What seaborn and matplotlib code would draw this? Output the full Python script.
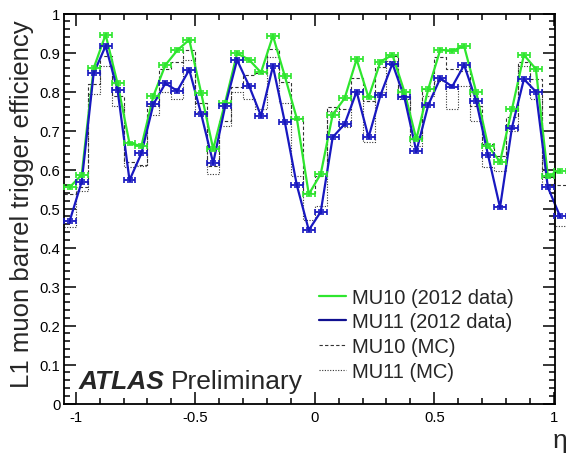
import numpy as np
import pandas as pd
import matplotlib
matplotlib.use("Agg")
import matplotlib.pyplot as plt
from matplotlib.lines import Line2D
from matplotlib.ticker import MultipleLocator, FixedLocator
import seaborn as sns

# ---------------- data ----------------
eta_centers = [-1.025, -0.975, -0.925, -0.875, -0.825, -0.775, -0.725, -0.675,
               -0.625, -0.575, -0.525, -0.475, -0.425, -0.375, -0.325, -0.275,
               -0.225, -0.175, -0.125, -0.075, -0.025, 0.025, 0.075, 0.125,
               0.175, 0.225, 0.275, 0.325, 0.375, 0.425, 0.475, 0.525,
               0.575, 0.625, 0.675, 0.725, 0.775, 0.825, 0.875, 0.925,
               0.975, 1.025]
bin_half_width = 0.025

mu10_data = [0.555, 0.587, 0.860, 0.946, 0.821, 0.667, 0.661, 0.789, 0.868, 0.906,
             0.933, 0.796, 0.653, 0.772, 0.898, 0.882, 0.849, 0.943, 0.839, 0.731,
             0.537, 0.589, 0.741, 0.783, 0.883, 0.785, 0.877, 0.894, 0.800, 0.678,
             0.807, 0.907, 0.905, 0.916, 0.800, 0.661, 0.620, 0.755, 0.894, 0.858,
             0.584, 0.597]
mu11_data = [0.469, 0.569, 0.847, 0.917, 0.804, 0.573, 0.642, 0.768, 0.821, 0.802,
             0.856, 0.742, 0.617, 0.762, 0.881, 0.815, 0.738, 0.865, 0.721, 0.560,
             0.445, 0.492, 0.683, 0.717, 0.800, 0.683, 0.791, 0.872, 0.785, 0.647,
             0.766, 0.834, 0.813, 0.868, 0.777, 0.637, 0.503, 0.708, 0.832, 0.800,
             0.555, 0.482]
mu10_err = [0.005] * 42
mu11_err = [0.005] * 42

mu10_mc = [0.537, 0.555, 0.819, 0.892, 0.789, 0.620, 0.613, 0.764, 0.858, 0.875,
           0.907, 0.772, 0.610, 0.725, 0.811, 0.842, 0.847, 0.910, 0.824, 0.733,
           0.540, 0.584, 0.760, 0.755, 0.836, 0.777, 0.862, 0.892, 0.789, 0.678,
           0.807, 0.888, 0.858, 0.853, 0.764, 0.666, 0.636, 0.734, 0.875, 0.832,
           0.580, 0.560]
mu11_mc = [0.452, 0.545, 0.794, 0.866, 0.764, 0.606, 0.610, 0.740, 0.798, 0.781,
           0.880, 0.747, 0.589, 0.712, 0.800, 0.781, 0.755, 0.888, 0.770, 0.584,
           0.470, 0.507, 0.751, 0.709, 0.802, 0.671, 0.798, 0.879, 0.780, 0.661,
           0.790, 0.828, 0.755, 0.815, 0.725, 0.606, 0.597, 0.700, 0.866, 0.780,
           0.563, 0.456]

x_ticks = [-1, -0.5, 0, 0.5, 1]
x_tick_labels = ["-1", "-0.5", "0", "0.5", "1"]
y_ticks = [0, 0.1, 0.2, 0.3, 0.4, 0.5, 0.6, 0.7, 0.8, 0.9, 1.0]
y_tick_labels = ["0", "0.1", "0.2", "0.3", "0.4", "0.5", "0.6", "0.7", "0.8", "0.9", "1"]

legend_labels = ["MU10 (2012 data)", "MU11 (2012 data)", "MU10 (MC)", "MU11 (MC)"]

# ---------------- style ----------------
sns.set_style("ticks")
plt.rcParams["font.family"] = ["Liberation Sans", "DejaVu Sans"]

GREEN = "#2ee62e"
BLUE = "#1818c0"
MC_COL = "#333333"

fig = plt.figure(figsize=(5.66, 4.56), dpi=100)
ax = fig.add_axes([0.1131, 0.1125, 0.9814 - 0.1131, 0.968 - 0.1125])

df = pd.DataFrame({
    "eta": eta_centers * 2,
    "eff": mu10_data + mu11_data,
    "err": mu10_err + mu11_err,
    "trigger": ["MU10"] * 42 + ["MU11"] * 42,
})
df_mc = pd.DataFrame({"eta": eta_centers, "mu10": mu10_mc, "mu11": mu11_mc})

edges = list(np.array(eta_centers) - bin_half_width) + [eta_centers[-1] + bin_half_width]

# MC step histograms
sns.histplot(data=df_mc, x="eta", weights="mu10", bins=edges, element="step",
             fill=False, color=MC_COL, linestyle=(0, (3, 2)), linewidth=0.8, ax=ax)
sns.histplot(data=df_mc, x="eta", weights="mu11", bins=edges, element="step",
             fill=False, color=MC_COL, linestyle=(0, (1, 1.4)), linewidth=0.8, ax=ax)

# data lines
sns.lineplot(data=df, x="eta", y="eff", hue="trigger",
             palette={"MU10": GREEN, "MU11": BLUE}, linewidth=1.6,
             legend=False, ax=ax, sort=False)

for trig, col in [("MU10", GREEN), ("MU11", BLUE)]:
    sub = df[df["trigger"] == trig]
    ax.errorbar(sub["eta"], sub["eff"], xerr=bin_half_width, yerr=sub["err"],
                fmt="none", ecolor=col, elinewidth=1.3, capsize=2.0,
                capthick=1.2, clip_on=False, zorder=3)

for ln in ax.lines:
    ln.set_clip_on(False)

# axes
ax.set_xlim(-1.049, 1.007)
ax.set_ylim(0, 1)
ax.xaxis.set_major_locator(FixedLocator(x_ticks))
ax.set_xticklabels(x_tick_labels)
ax.xaxis.set_minor_locator(MultipleLocator(0.1))
ax.yaxis.set_major_locator(FixedLocator(y_ticks))
ax.set_yticklabels(y_tick_labels)
ax.yaxis.set_minor_locator(MultipleLocator(0.02))

ax.tick_params(which="both", direction="in", top=True, right=True,
               labelsize=10.7, colors="black")
ax.tick_params(which="major", length=8.5, width=1.1)
ax.tick_params(which="minor", length=4.2, width=1.1)
ax.tick_params(axis="x", pad=4.5)
ax.tick_params(axis="y", pad=2.5)
for side in ax.spines.values():
    side.set_linewidth(1.3)
    side.set_color("black")

ax.set_ylabel("L1 muon barrel trigger efficiency", fontsize=18.5)
ax.yaxis.label.set_verticalalignment("center")
ax.yaxis.set_label_coords(-0.0855, 0.515)
ax.set_xlabel("η", fontsize=19, ha="right")
ax.xaxis.label.set_verticalalignment("center")
ax.xaxis.set_label_coords(1.024, -0.093)

# ATLAS label
t_atlas = ax.text(0.029, 0.04, "ATLAS", transform=ax.transAxes, fontsize=19,
                  fontweight="bold", fontstyle="italic", va="baseline", ha="left")
ax.annotate("Preliminary", xy=(1, 0), xycoords=t_atlas, xytext=(5, 0),
            textcoords="offset points", fontsize=19, va="bottom", ha="left")

# legend
handles = [
    Line2D([], [], color=GREEN, lw=1.6),
    Line2D([], [], color="#101090", lw=1.6),
    Line2D([], [], color=MC_COL, lw=0.8, ls=(0, (3, 2))),
    Line2D([], [], color=MC_COL, lw=0.8, ls=(0, (1, 1.4))),
]
ax.legend(handles, legend_labels, loc="upper left", bbox_to_anchor=(0.518, 0.297),
          frameon=False, fontsize=14.5, handlelength=1.35, handletextpad=0.3,
          labelspacing=0.28, borderaxespad=0, borderpad=0)

fig.savefig("out.png", dpi=100)
